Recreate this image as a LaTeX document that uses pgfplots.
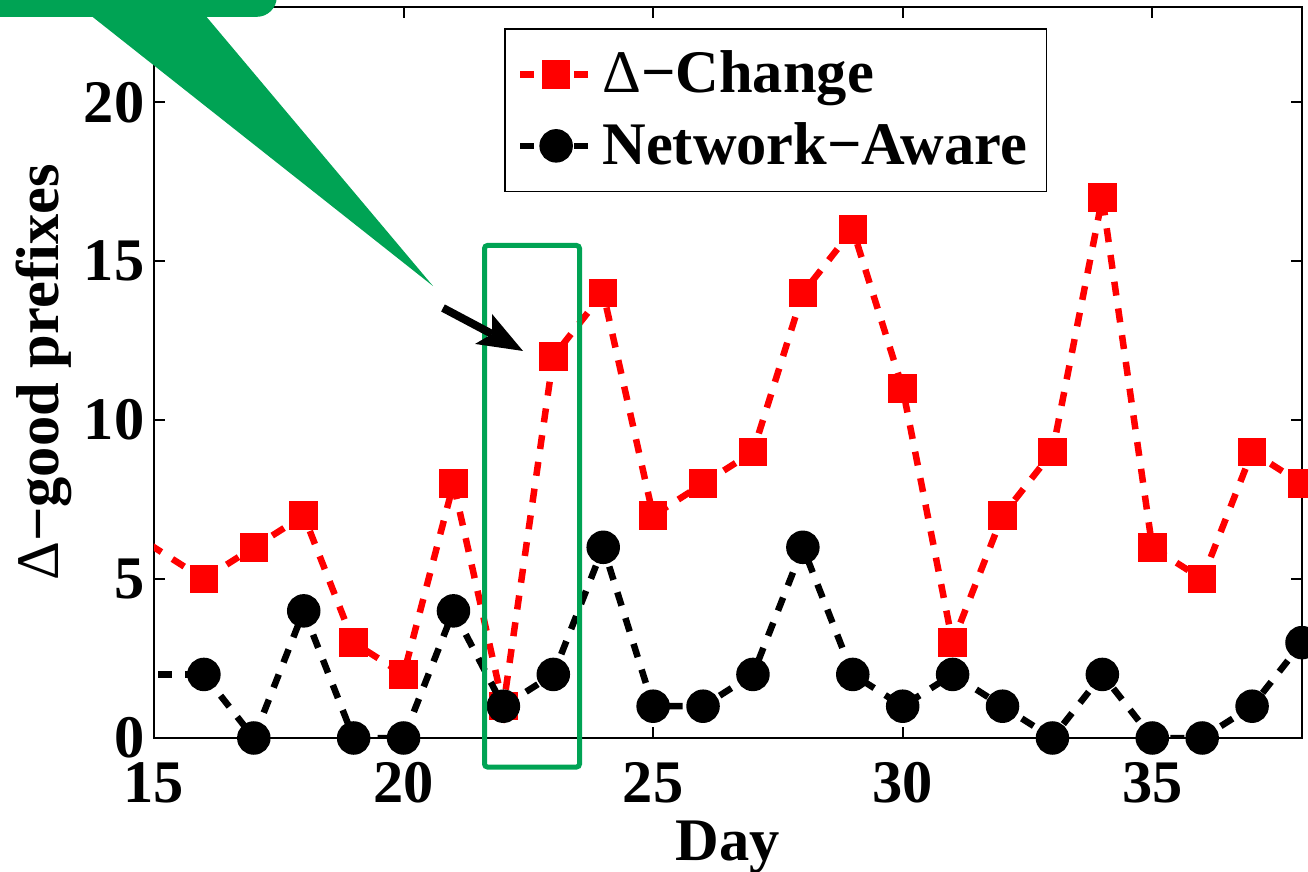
\documentclass[border=0pt]{standalone}
\usepackage{fontspec}
\setmainfont{Liberation Serif}
\usepackage{pgfplots}
\pgfplotsset{compat=1.18}
\definecolor{callgreen}{RGB}{0,163,84}
\newcommand{\cfont}{\fontsize{17.2pt}{20pt}\selectfont\bfseries}
\newcommand{\dlt}{{\mdseries Δ}}

\begin{document}
\begin{tikzpicture}
\path[use as bounding box, clip] (-15.4mm,-13.4mm) rectangle (115.4mm,73.8mm);
\begin{axis}[
  at={(0,0)}, anchor=south west, scale only axis,
  width=114.8mm, height=73.1mm,
  xmin=15, xmax=38, ymin=0, ymax=23,
  xtick={15,20,25,30,35}, ytick={0,5,10,15,20},
  tick align=inside, major tick length=1.1mm,
  axis line style={line width=0.2mm},
  every tick/.style={black, line width=0.2mm},
  clip mode=individual,
  /pgf/number format/assume math mode=true,
  tick label style={font=\cfont},
  xticklabel style={inner sep=0pt, yshift=-2.4mm},
  yticklabel style={inner sep=0pt, xshift=-0.9mm},
  xlabel={Day}, ylabel={\dlt−good prefixes},
  label style={font=\cfont},
  xlabel style={at={(axis description cs:0.5,0)}, anchor=north, yshift=-8.2mm, inner sep=0pt},
  ylabel style={at={(axis description cs:-0.121,0.5)}, anchor=north, inner sep=0pt},
  legend style={at={(rel axis cs:0.305,0.971)}, anchor=north west, draw=black,
    line width=0.15mm, inner xsep=1.2mm, inner ysep=1.5mm, row sep=1.0mm,
    font=\cfont, cells={anchor=west}},
  legend image code/.code={\draw[mark repeat=2,mark phase=2,#1] plot coordinates {(0mm,0mm) (3.6mm,0mm) (7.2mm,0mm)};},
]
% Delta-Change (segment from the point left of the axis)
\addplot[red, line width=0.65mm, dash pattern=on 1.4mm off 1.3mm, forget plot] coordinates {(14,7) (16,5)};
\addplot[red, line width=0.65mm, dash pattern=on 1.4mm off 1.3mm, mark=square*, mark size=1.1mm, mark options={solid, fill=red}] coordinates {
(16,5) (17,6) (18,7) (19,3) (20,2) (21,8) (22,1) (23,12) (24,14) (25,7) (26,8) (27,9)
(28,14) (29,16) (30,11) (31,3) (32,7) (33,9) (34,17) (35,6) (36,5) (37,9) (38,8)};
\addlegendentry{\dlt−Change}
% Network-Aware
\addplot[black, line width=0.65mm, dash pattern=on 1.4mm off 1.3mm, forget plot] coordinates {(14,2) (16,2)};
\addplot[black, line width=0.65mm, dash pattern=on 1.4mm off 1.3mm, mark=*, mark size=1.35mm, mark options={solid, fill=black}] coordinates {
(16,2) (17,0) (18,4) (19,0) (20,0) (21,4) (22,1) (23,2) (24,6) (25,1) (26,1) (27,2)
(28,6) (29,2) (30,1) (31,2) (32,1) (33,0) (34,2) (35,0) (36,0) (37,1) (38,3)};
\addlegendentry{Network−Aware}
% annotations
\draw[callgreen, line width=0.5mm, rounded corners=0.3mm] (axis cs:21.622,15.497) rectangle (axis cs:23.525,-0.913);
\draw[black, line width=0.8mm] (axis cs:20.790,13.530) -- (axis cs:21.772,12.712);
\fill[black] (axis cs:22.393,12.177) -- (axis cs:21.772,13.342) -- (axis cs:21.772,12.712) -- (axis cs:21.432,12.398) -- cycle;
\fill[callgreen, rounded corners=2mm] (axis cs:9.9,29.5) rectangle (axis cs:17.46,22.69);
\fill[callgreen] (axis cs:13.72,22.75) -- (axis cs:20.59,14.22) -- (axis cs:16.02,22.75) -- cycle;
\end{axis}
\end{tikzpicture}
\end{document}
